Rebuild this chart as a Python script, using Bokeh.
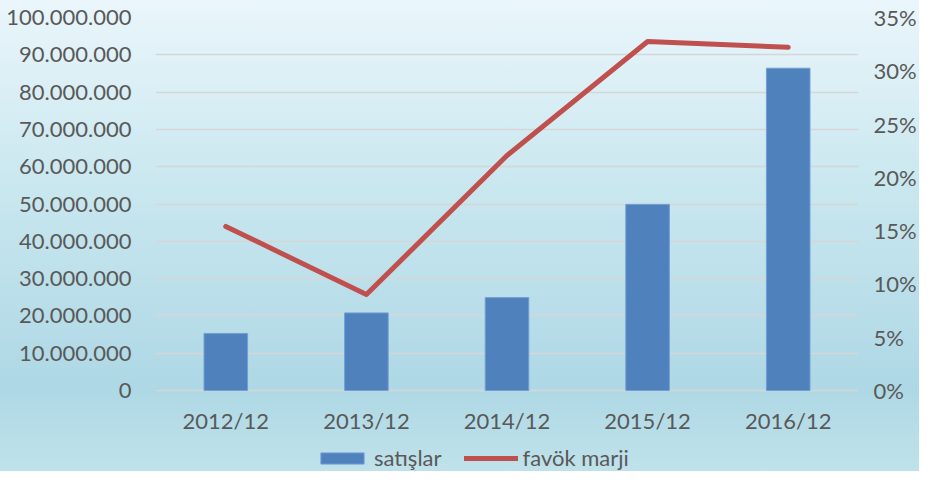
from bokeh.plotting import figure
from bokeh.models import (FactorRange, Range1d, LinearAxis, FixedTicker, NumeralTickFormatter,
                          CustomJSTickFormatter, Legend, LegendItem, ColumnDataSource)
from bokeh.embed import file_html
from bokeh.resources import INLINE

categories = ["2012/12", "2013/12", "2014/12", "2015/12", "2016/12"]
satislar = [15300000, 20800000, 24900000, 49900000, 86400000]
favok_marji = [0.154, 0.090, 0.2205, 0.3275, 0.322]
left_ticks = [0, 10000000, 20000000, 30000000, 40000000, 50000000, 60000000, 70000000, 80000000, 90000000, 100000000]
right_ticks = [0, 0.05, 0.10, 0.15, 0.20, 0.25, 0.30, 0.35]

FONT = "Lato"
TXT = "#595959"
FS = "22px"

# layout (pixels): plot top, zero line, figure height
W, H = 919, 471
TOP, ZERO = 17, 390
ext = (H - ZERO) / (ZERO - TOP)   # part of the frame below the zero line (x labels + legend)
YMAX, PMAX = 100000000, 0.35

src = ColumnDataSource(dict(cat=categories, sales=satislar, margin=favok_marji))

p = figure(x_range=FactorRange(*categories, range_padding=0), y_range=Range1d(-YMAX * ext, YMAX),
           width=W, height=H, output_backend="svg", toolbar_location=None,
           min_border_left=155, min_border_right=49, min_border_top=TOP, min_border_bottom=0)
p.extra_y_ranges = {"pct": Range1d(-PMAX * ext, PMAX)}

p.styles = {"background": "linear-gradient(to bottom, #EAF6FB 0%, #C9E7EF 40%, #AED8E5 82%, #BFE2EA 100%)"}
p.background_fill_color = None
p.border_fill_color = None
p.outline_line_color = None

bars = p.vbar(x="cat", top="sales", width=0.31, source=src,
              fill_color="#4F81BD", line_color="#739FD4", line_width=1)
line = p.line(x="cat", y="margin", source=src, y_range_name="pct",
              line_color="#C0504D", line_width=5, line_cap="round", line_join="round")

# left axis
la = p.yaxis[0]
la.ticker = FixedTicker(ticks=left_ticks)
la.formatter = CustomJSTickFormatter(code="return tick.toFixed(0).replace(/\\B(?=(\\d{3})+(?!\\d))/g, '.');")
la.axis_line_color = None
la.major_tick_line_color = None
la.minor_tick_line_color = None
la.major_label_standoff = 18
la.major_label_text_font = FONT
la.major_label_text_font_size = FS
la.major_label_text_color = TXT

ra = LinearAxis(y_range_name="pct", ticker=FixedTicker(ticks=right_ticks),
                formatter=NumeralTickFormatter(format="0%"))
ra.axis_line_color = None
ra.major_tick_line_color = None
ra.minor_tick_line_color = None
ra.major_label_standoff = 9
ra.major_label_text_font = FONT
ra.major_label_text_font_size = FS
ra.major_label_text_color = TXT
p.add_layout(ra, "right")

xa = p.xaxis[0]
xa.fixed_location = 0
xa.axis_line_color = None
xa.major_tick_line_color = None
xa.minor_tick_line_color = None
xa.major_label_standoff = 10
xa.major_label_text_font = FONT
xa.major_label_text_font_size = FS
xa.major_label_text_color = TXT

p.xgrid.grid_line_color = None
p.ygrid.grid_line_color = "#D6D6D6"
p.ygrid.grid_line_width = 1.5

legend = Legend(items=[LegendItem(label="satışlar", renderers=[bars]),
                       LegendItem(label="favök marji", renderers=[line])],
                location=(160, 0), orientation="horizontal",
                background_fill_alpha=0, border_line_alpha=0, padding=0, margin=0,
                glyph_width=54, glyph_height=14, label_standoff=5, spacing=22,
                label_text_font=FONT, label_text_font_size=FS, label_text_color=TXT)
p.add_layout(legend, "center")

open("out.html", "w").write(file_html(p, INLINE))
